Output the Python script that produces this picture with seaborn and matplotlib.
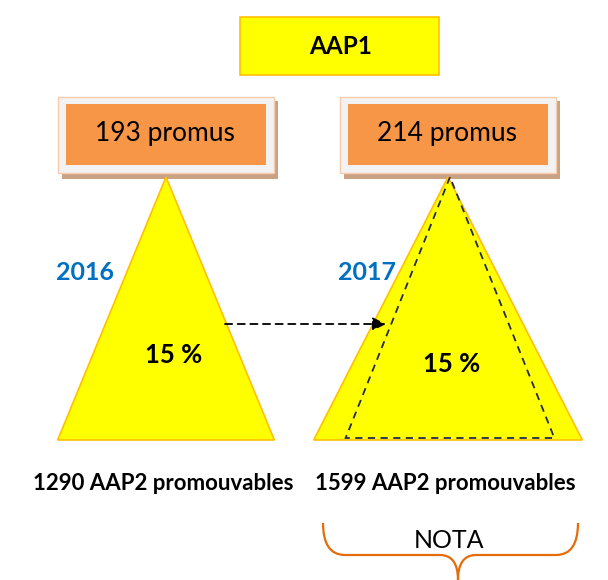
import numpy as np
import matplotlib.pyplot as plt
import seaborn as sns
from matplotlib.patches import Rectangle, Polygon, PathPatch, FancyArrowPatch
from matplotlib.path import Path

# Data
years = [2016, 2017]
promus = [193, 214]
promouvables = [1290, 1599]
rates = [15, 15]
title = "AAP1"
note = "NOTA"

sns.set_theme(style="white")
plt.rcParams['font.family'] = ['Lato', 'DejaVu Sans']
plt.rcParams['text.color'] = 'black'

fig = plt.figure(figsize=(6.08, 5.80), dpi=100)
ax = fig.add_axes([0, 0, 1, 1])
ax.set_xlim(0, 608)
ax.set_ylim(580, 0)
ax.axis("off")

YELLOW = "#FFFF00"
GOLD = "#FFC000"
ORANGE = "#F79646"
BLUE = "#0070C0"

# title box
ax.add_patch(Rectangle((240, 17), 199, 58, facecolor=YELLOW, edgecolor=GOLD, lw=1.2))
ax.text(341, 46, title, ha="center", va="center", fontsize=17.5, fontweight="bold")

centers = [166, 448]
apex_y, base_y = 177, 440
scale = 0.168  # px of triangle base per promouvable

for i, cx in enumerate(centers):
    # shadowed box with promus count
    x0 = cx - 108
    ax.add_patch(Rectangle((x0 + 4, 101), 216, 78, facecolor="#C9A283", edgecolor="none"))
    ax.add_patch(Rectangle((x0, 97), 216, 76, facecolor="#F2F2F2", edgecolor="#F8CBAD", lw=1))
    ax.add_patch(Rectangle((x0 + 8, 104), 200, 61, facecolor=ORANGE, edgecolor="none"))
    ax.text(cx - 1, 133, f"{promus[i]} promus", ha="center", va="center", fontsize=19)

    # triangle sized by promouvables
    half = promouvables[i] * scale / 2
    ax.add_patch(Polygon([(cx, apex_y), (cx - half, base_y), (cx + half, base_y)],
                         closed=True, facecolor=YELLOW, edgecolor=GOLD, lw=1.2))

    ax.text(cx - 81, 272, str(years[i]), ha="center", va="center",
            fontsize=18, fontweight="bold", color=BLUE)
    ax.text(cx + 8 - 4 * i, 355 + 9 * i, f"{rates[i]} %", ha="center", va="center",
            fontsize=18.5, fontweight="bold")
    ax.text(cx - 3, 483, f"{promouvables[i]} AAP2 promouvables", ha="center",
            va="center", fontsize=16, fontweight="bold")

# previous year's triangle overlaid on 2017
half0 = promouvables[0] * scale / 2 - 4
cx1 = centers[1] + 2
ax.add_patch(Polygon([(cx1, apex_y), (cx1 - half0, 438), (cx1 + half0, 438)],
                     closed=True, facecolor="none", edgecolor="#1F2A5A",
                     lw=1.3, linestyle=(0, (4, 3))))

# dashed arrow
ax.add_patch(FancyArrowPatch((225, 324), (386, 324), arrowstyle="-|>",
                             mutation_scale=20, color="black", lw=1.3,
                             linestyle=(0, (4, 3)), shrinkA=0, shrinkB=0))

# curly brace with note
bl, br, by, bm, bt = 323, 578, 523, 555, 580
bx = 458
verts = [(bl, by), (bl, bm), (bl + 22, bm), (bl + 22, bm),
         (bx - 18, bm), (bx - 18, bm), (bx, bm), (bx, bt),
         (bx, bm), (bx + 18, bm), (bx + 18, bm),
         (br - 22, bm), (br - 22, bm), (br, bm), (br, by)]
codes = [Path.MOVETO, Path.CURVE3, Path.CURVE3, Path.LINETO,
         Path.LINETO, Path.LINETO, Path.CURVE3, Path.CURVE3,
         Path.CURVE3, Path.CURVE3, Path.LINETO,
         Path.LINETO, Path.LINETO, Path.CURVE3, Path.CURVE3]
ax.add_patch(PathPatch(Path(verts, codes), facecolor="none", edgecolor="#E46C0A", lw=1.6))
ax.text(449, 540, note, ha="center", va="center", fontsize=18)

fig.savefig("out.png", dpi=100)
